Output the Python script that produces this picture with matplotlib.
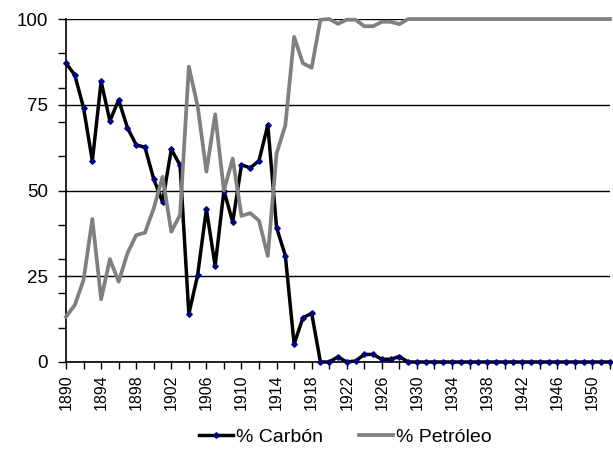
import matplotlib
matplotlib.use("Agg")
import matplotlib.pyplot as plt

plt.rcParams['font.family'] = ['Liberation Sans', 'DejaVu Sans']

years = list(range(1890, 1953))
carbon = [87.1, 83.7, 74.1, 58.6, 81.8, 70.3, 76.4, 68.3, 63.3, 62.6,
          53.3, 46.7, 62.0, 57.4, 14.0, 25.3, 44.6, 28.0, 50.0, 40.8,
          57.5, 56.6, 58.7, 69.1, 39.2, 31.0, 5.2, 12.9, 14.2, 0.0,
          0.0, 1.5, 0.0, 0.3, 2.2, 2.2, 0.8, 0.8, 1.6, 0.0,
          0.0, 0.0, 0.0, 0.0, 0.0, 0.0, 0.0, 0.0, 0.0, 0.0,
          0.0, 0.0, 0.0, 0.0, 0.0, 0.0, 0.0, 0.0, 0.0, 0.0,
          0.0, 0.0, 0.0]
petroleo = [13.2, 16.6, 23.9, 41.7, 18.3, 30.0, 23.4, 31.7, 37.0, 37.7,
            44.8, 54.0, 38.0, 42.9, 86.1, 74.7, 55.5, 72.2, 50.0, 59.3,
            42.6, 43.4, 41.2, 30.9, 60.8, 69.0, 94.8, 87.1, 85.8, 99.8,
            100.0, 98.6, 99.8, 99.8, 97.9, 97.9, 99.2, 99.2, 98.5, 100.0,
            100.0, 100.0, 100.0, 100.0, 100.0, 100.0, 100.0, 100.0, 100.0, 100.0,
            100.0, 100.0, 100.0, 100.0, 100.0, 100.0, 100.0, 100.0, 100.0, 100.0,
            100.0, 100.0, 100.0]

fig = plt.figure(figsize=(6.13, 4.53), dpi=100)
ax = fig.add_axes([0.1077, 0.2009, 0.8873, 0.7571])

ax.plot(years, carbon, color='black', lw=2.5, marker='D', ms=2.8,
        mfc='#000080', mec='#000080', label='% Carbón', clip_on=False, zorder=3)
ax.plot(years, petroleo, color='#808080', lw=2.7, label='% Petróleo',
        clip_on=False, zorder=4)

ax.set_xlim(1890, 1952)
ax.set_ylim(0, 100)

ax.set_yticks([0, 25, 50, 75, 100])
ax.set_yticks(range(0, 101, 10), minor=True)
ax.grid(axis='y', which='major', color='black', lw=1.0, zorder=1)
ax.tick_params(axis='y', which='both', direction='out', length=6, width=1,
               labelsize=13.5, pad=7)

ax.set_xticks(range(1890, 1951, 4))
ax.set_xticks(range(1890, 1953, 2), minor=True)
ax.tick_params(axis='x', which='both', direction='out', length=5, width=1,
               labelsize=11.5, labelrotation=90, pad=4)

for s in ['top', 'right']:
    ax.spines[s].set_visible(False)
for s in ['left', 'bottom']:
    ax.spines[s].set_linewidth(1.2)

fig.legend(loc='center', bbox_to_anchor=(0.563, 0.035), ncol=2, frameon=False,
           fontsize=14, handlelength=1.75, handletextpad=0.15, columnspacing=1.85)

fig.savefig('out.png', dpi=100)
